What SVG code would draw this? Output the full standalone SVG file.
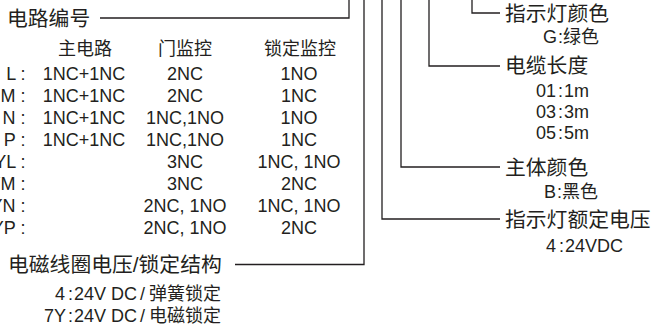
<svg xmlns="http://www.w3.org/2000/svg" width="652" height="327" viewBox="0 0 652 327">
<style>
text{font-family:"Liberation Sans","Noto Sans CJK SC",sans-serif;fill:#231f20}
.h{font-size:20.8px}
.t{font-size:18px}
.m{text-anchor:middle}
.e{text-anchor:end}
.ln{fill:none;stroke:#231f20;stroke-width:1.3}
</style>
<rect width="652" height="327" fill="#fff"/>
<g id="connectors">
<path class="ln" d="M100,18H349V0"/>
<path class="ln" d="M235,264.5H364V0"/>
<path class="ln" d="M382,0V219H500"/>
<path class="ln" d="M401,0V167H500"/>
<path class="ln" d="M429,0V66H500"/>
<path class="ln" d="M472,0V13H500"/>
</g>
<g id="circuit">
<text class="h" x="7" y="26">电路编号</text>
<text class="t m" x="85" y="54.5">主电路</text>
<text class="t m" x="185" y="54.5">门监控</text>
<text class="t m" x="300" y="54.5">锁定监控</text>
<g class="t">
<text class="e" x="25.5" y="79.5">L :</text>
<text class="e" x="25.5" y="101.5">M :</text>
<text class="e" x="25.5" y="123.5">N :</text>
<text class="e" x="25.5" y="145.5">P :</text>
<text class="e" x="25.5" y="167.5">YL :</text>
<text class="e" x="25.5" y="189.5">YM :</text>
<text class="e" x="25.5" y="211.5">YN :</text>
<text class="e" x="25.5" y="233.5">YP :</text>
<text class="m" x="84" y="79.5">1NC+1NC</text>
<text class="m" x="84" y="101.5">1NC+1NC</text>
<text class="m" x="84" y="123.5">1NC+1NC</text>
<text class="m" x="84" y="145.5">1NC+1NC</text>
<text class="m" x="185" y="79.5">2NC</text>
<text class="m" x="185" y="101.5">2NC</text>
<text class="m" x="185" y="123.5">1NC,1NO</text>
<text class="m" x="185" y="145.5">1NC,1NO</text>
<text class="m" x="185" y="167.5">3NC</text>
<text class="m" x="185" y="189.5">3NC</text>
<text class="m" x="185" y="211.5">2NC, 1NO</text>
<text class="m" x="185" y="233.5">2NC, 1NO</text>
<text class="m" x="299" y="79.5">1NO</text>
<text class="m" x="299" y="101.5">1NC</text>
<text class="m" x="299" y="123.5">1NO</text>
<text class="m" x="299" y="145.5">1NC</text>
<text class="m" x="299" y="167.5">1NC, 1NO</text>
<text class="m" x="299" y="189.5">2NC</text>
<text class="m" x="299" y="211.5">1NC, 1NO</text>
<text class="m" x="299" y="233.5">2NC</text>
</g>
</g>
<g id="coil">
<text class="h" x="8" y="272.3">电磁线圈电压/锁定结构</text>
<text class="t e" x="221" y="300">4<tspan dx="3">:</tspan><tspan dx="1">24V DC</tspan><tspan dx="3">/</tspan><tspan dx="4">弹簧锁定</tspan></text>
<text class="t e" x="221" y="322">7Y<tspan dx="3">:</tspan><tspan dx="1">24V DC</tspan><tspan dx="3">/</tspan><tspan dx="4">电磁锁定</tspan></text>
</g>
<g id="lamp-color">
<text class="h" x="505" y="20.5">指示灯颜色</text>
<text class="t" x="543" y="43">G<tspan dx="1">:</tspan>绿色</text>
</g>
<g id="cable">
<text class="h" x="505" y="73">电缆长度</text>
<text class="t" x="536" y="97">01<tspan dx="2">:</tspan><tspan dx="1">1m</tspan></text>
<text class="t" x="536" y="118">03<tspan dx="2">:</tspan><tspan dx="1">3m</tspan></text>
<text class="t" x="536" y="139">05<tspan dx="2">:</tspan><tspan dx="1">5m</tspan></text>
</g>
<g id="body-color">
<text class="h" x="505" y="174.5">主体颜色</text>
<text class="t" x="544" y="198">B<tspan dx="1">:</tspan>黑色</text>
</g>
<g id="lamp-voltage">
<text class="h" x="505" y="227">指示灯额定电压</text>
<text class="t" x="546" y="251.5">4<tspan dx="3">:</tspan><tspan dx="1">24VDC</tspan></text>
</g>
</svg>
